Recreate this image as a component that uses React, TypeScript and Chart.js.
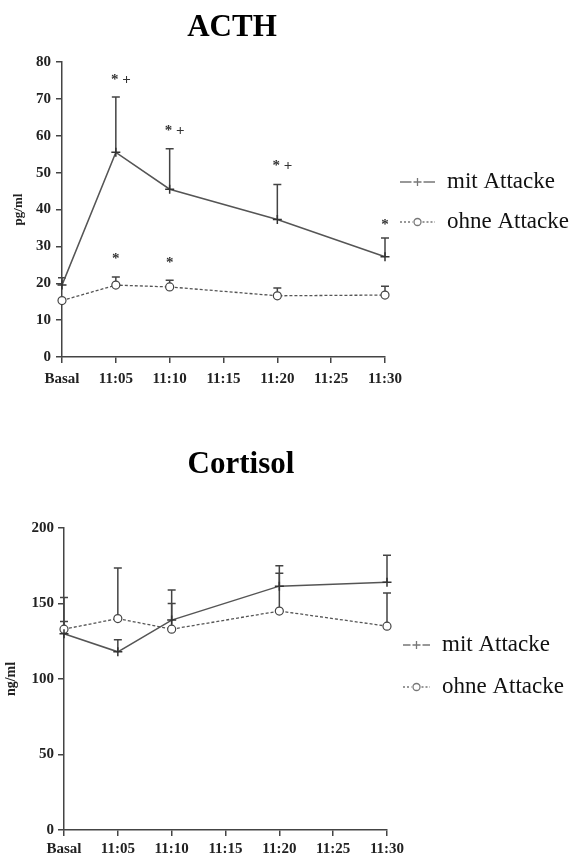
import React, { useEffect, useRef } from 'react';
import { Chart, registerables } from 'chart.js';

Chart.register(...registerables);

// ---------- data ----------
const timeLabels = ['Basal', '11:05', '11:10', '11:15', '11:20', '11:25', '11:30'];
const seriesNames = ['mit Attacke', 'ohne Attacke'];

const acthTitle = 'ACTH';
const acthUnit = 'pg/ml';
const acthMit = [19.5, 55.5, 45.5, null, 37.3, null, 27.2];
const acthMitErrTop = [21.5, 70.5, 56.5, null, 46.8, null, 32.3];
const acthOhne = [15.3, 19.5, 19.0, null, 16.6, null, 16.8];
const acthOhneErrTop = [null, 21.7, 20.8, null, 18.7, null, 19.2];
const acthMarkIdx = [1, 2, 4, 6, 1, 2];
const acthMarkVal = [76, 62, 52.5, 36.5, 27.4, 26.3];
const acthMarkText = ['* +', '* +', '* +', '*', '*', '*'];

const cortTitle = 'Cortisol';
const cortUnit = 'ng/ml';
const cortMit = [130, 118, 139, null, 161.5, null, 164];
const cortMitErrTop = [154, 126, 150, null, 170, null, 182];
const cortOhne = [133, 140, 133, null, 145, null, 135];
const cortOhneErrTop = [138, 173.5, 159, null, 175, null, 157];

// ---------- styles ----------
const SERIF = "'Liberation Serif', 'Times New Roman', serif";
const AXIS = '#444';
const LINE = '#555';

type Cfg = {
  title: string;
  unit: string;
  mit: (number | null)[];
  mitErr: (number | null)[];
  ohne: (number | null)[];
  ohneErr: (number | null)[];
  markIdx: number[];
  markVal: number[];
  markText: string[];
  yMax: number;
  yStep: number;
  width: number;
  height: number;
  padTop: number;
  padRight: number;
  yWidth: number;
  xHeight: number;
  xTickPad: number;
  yTickPad: number;
  yTitlePad: number;
  yTitleSize: number;
  titleX: number;
  titleY: number;
  legendX: number;
  legendTextX: number;
  legendY: number[];
};

function makePlugin(cfg: Cfg) {
  return {
    id: 'custom-' + cfg.title,
    beforeDatasetsDraw(chart: any) {
      const ctx = chart.ctx;
      const xs = chart.scales.x;
      const ys = chart.scales.y;
      const sets = [
        { v: cfg.mit, e: cfg.mitErr },
        { v: cfg.ohne, e: cfg.ohneErr },
      ];
      ctx.save();
      ctx.strokeStyle = AXIS;
      ctx.lineWidth = 1.5;
      sets.forEach((s) => {
        s.v.forEach((val, i) => {
          const top = s.e[i];
          if (val == null || top == null) return;
          const px = xs.getPixelForValue(i);
          const py0 = ys.getPixelForValue(val);
          const py1 = ys.getPixelForValue(top);
          ctx.beginPath();
          ctx.moveTo(px, py0);
          ctx.lineTo(px, py1);
          ctx.moveTo(px - 4, py1);
          ctx.lineTo(px + 4, py1);
          ctx.stroke();
        });
      });
      ctx.restore();
    },
    afterDraw(chart: any) {
      const ctx = chart.ctx;
      const xs = chart.scales.x;
      const ys = chart.scales.y;
      ctx.save();
      // significance marks
      ctx.fillStyle = '#333';
      ctx.font = `bold 15px ${SERIF}`;
      ctx.textAlign = 'center';
      ctx.textBaseline = 'middle';
      cfg.markIdx.forEach((idx, k) => {
        const t = cfg.markText[k];
        const px = xs.getPixelForValue(idx) + (t.length > 1 ? 5 : 0);
        const py = ys.getPixelForValue(cfg.markVal[k]);
        ctx.fillText(t, px, py + 3);
      });
      // title
      ctx.fillStyle = '#000';
      ctx.font = `bold 31px ${SERIF}`;
      ctx.textAlign = 'center';
      ctx.textBaseline = 'alphabetic';
      ctx.fillText(cfg.title, cfg.titleX, cfg.titleY);
      // legend
      seriesNames.forEach((name, k) => {
        const y = cfg.legendY[k];
        const x0 = cfg.legendX;
        const x1 = cfg.legendTextX - 12;
        const xm = (x0 + x1) / 2;
        ctx.strokeStyle = '#777';
        ctx.lineWidth = 1.3;
        if (k === 0) {
          ctx.setLineDash([]);
          ctx.beginPath();
          ctx.moveTo(x0, y); ctx.lineTo(xm - 6, y);
          ctx.moveTo(xm + 6, y); ctx.lineTo(x1, y);
          ctx.stroke();
          ctx.beginPath();
          ctx.moveTo(xm - 4, y); ctx.lineTo(xm + 4, y);
          ctx.moveTo(xm, y - 4); ctx.lineTo(xm, y + 4);
          ctx.stroke();
        } else {
          ctx.setLineDash([2, 2]);
          ctx.beginPath();
          ctx.moveTo(x0, y); ctx.lineTo(xm - 5, y);
          ctx.moveTo(xm + 5, y); ctx.lineTo(x1, y);
          ctx.stroke();
          ctx.setLineDash([]);
          ctx.beginPath();
          ctx.arc(xm, y, 3.5, 0, Math.PI * 2);
          ctx.stroke();
        }
        ctx.fillStyle = '#111';
        ctx.font = `23px ${SERIF}`;
        ctx.textAlign = 'left';
        ctx.textBaseline = 'middle';
        ctx.fillText(name, cfg.legendTextX, y);
      });
      ctx.restore();
    },
  };
}

function PanelChart({ cfg, top }: { cfg: Cfg; top: number }) {
  const ref = useRef<HTMLCanvasElement | null>(null);
  useEffect(() => {
    if (!ref.current) return;
    const tickFont = { family: SERIF, weight: 'bold' as const, size: 15 };
    const chart = new Chart(ref.current, {
      type: 'line',
      data: {
        labels: timeLabels,
        datasets: [
          {
            label: seriesNames[0],
            data: cfg.mit,
            borderColor: LINE,
            borderWidth: 1.5,
            pointStyle: 'cross',
            pointRadius: 4.5,
            pointBorderWidth: 1.5,
            pointBorderColor: '#333',
            spanGaps: true,
            tension: 0,
          },
          {
            label: seriesNames[1],
            data: cfg.ohne,
            borderColor: LINE,
            borderWidth: 1.3,
            borderDash: [3, 2],
            pointStyle: 'circle',
            pointRadius: 4,
            pointBackgroundColor: '#fff',
            pointBorderColor: '#444',
            pointBorderWidth: 1.2,
            spanGaps: true,
            tension: 0,
          },
        ],
      },
      options: {
        responsive: false,
        animation: false,
        devicePixelRatio: 1,
        layout: { padding: { top: cfg.padTop, right: cfg.padRight, left: 0, bottom: 0 } },
        plugins: { legend: { display: false }, tooltip: { enabled: false }, title: { display: false } },
        scales: {
          x: {
            type: 'category',
            offset: false,
            grid: { drawOnChartArea: false, drawTicks: true, tickLength: 6, color: AXIS, lineWidth: 1.5 },
            border: { color: AXIS, width: 1.5 },
            ticks: { font: tickFont, color: '#222', padding: cfg.xTickPad, maxRotation: 0, autoSkip: false },
            afterFit: (s: any) => { s.height = cfg.xHeight; },
          },
          y: {
            min: 0,
            max: cfg.yMax,
            grid: { drawOnChartArea: false, drawTicks: true, tickLength: 6, color: AXIS, lineWidth: 1.5 },
            border: { color: AXIS, width: 1.5 },
            ticks: { stepSize: cfg.yStep, font: tickFont, color: '#222', padding: cfg.yTickPad },
            title: {
              display: true,
              text: cfg.unit,
              font: { family: SERIF, weight: 'bold', size: cfg.yTitleSize },
              color: '#222',
              padding: { top: cfg.yTitlePad, bottom: 0 },
            },
            afterFit: (s: any) => { s.width = cfg.yWidth; },
          },
        },
      },
      plugins: [makePlugin(cfg)],
    } as any);
    return () => chart.destroy();
  }, [cfg]);
  return (
    <canvas
      ref={ref}
      width={cfg.width}
      height={cfg.height}
      style={{ position: 'absolute', left: 0, top, width: cfg.width, height: cfg.height, display: 'block' }}
    />
  );
}

const acthCfg: Cfg = {
  title: acthTitle, unit: acthUnit,
  mit: acthMit, mitErr: acthMitErrTop, ohne: acthOhne, ohneErr: acthOhneErrTop,
  markIdx: acthMarkIdx, markVal: acthMarkVal, markText: acthMarkText,
  yMax: 80, yStep: 10,
  width: 574, height: 420, padTop: 62, padRight: 189, yWidth: 62, xHeight: 63,
  xTickPad: 7, yTickPad: 5, yTitlePad: 11, yTitleSize: 13,
  titleX: 232, titleY: 36,
  legendX: 400, legendTextX: 447, legendY: [182, 222],
};

const cortCfg: Cfg = {
  title: cortTitle, unit: cortUnit,
  mit: cortMit, mitErr: cortMitErrTop, ohne: cortOhne, ohneErr: cortOhneErrTop,
  markIdx: [], markVal: [], markText: [],
  yMax: 200, yStep: 50,
  width: 574, height: 437, padTop: 108, padRight: 187, yWidth: 64, xHeight: 27,
  xTickPad: 4, yTickPad: 4, yTitlePad: 3, yTitleSize: 14,
  titleX: 241, titleY: 53,
  legendX: 403, legendTextX: 442, legendY: [225, 267],
};

export default function App() {
  return (
    <div style={{ position: 'absolute', left: 0, top: 0, width: 574, height: 857, background: '#fff' }}>
      <PanelChart cfg={acthCfg} top={0} />
      <PanelChart cfg={cortCfg} top={420} />
    </div>
  );
}
